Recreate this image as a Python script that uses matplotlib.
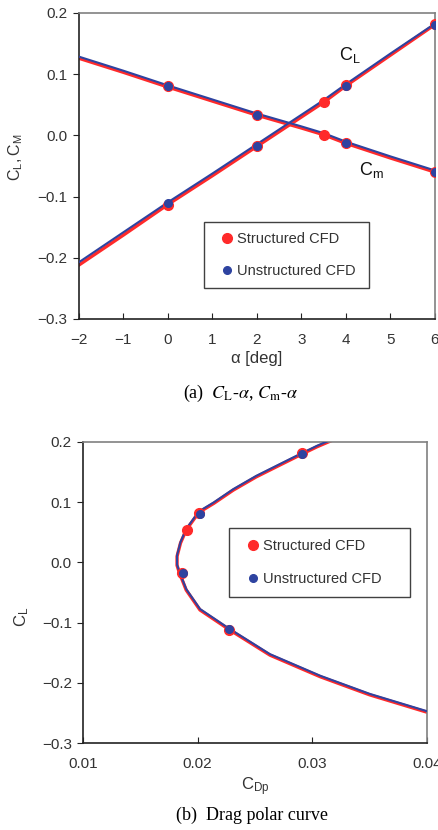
import numpy as np
import matplotlib
matplotlib.use('Agg')
import matplotlib.pyplot as plt
from matplotlib.transforms import ScaledTranslation

plt.rcParams['font.family'] = ['Liberation Sans', 'DejaVu Sans']
plt.rcParams['mathtext.fontset'] = 'custom'
plt.rcParams['mathtext.rm'] = 'Liberation Sans'
plt.rcParams['mathtext.it'] = 'Liberation Sans:italic'

# ------------ Data ---------------
# (a) CL / Cm vs alpha, lines
alpha_line = [-2, -1, 0, 1, 2, 3, 3.5, 4, 5, 6]
cl_line_str = [-0.212, -0.163, -0.113, -0.066, -0.018, 0.030, 0.054, 0.081, 0.131, 0.181]
cl_line_uns = [-0.209, -0.160, -0.111, -0.064, -0.016, 0.032, 0.056, 0.082, 0.132, 0.181]
cm_line_str = [0.126, 0.103, 0.079, 0.056, 0.033, 0.012, 0.001, -0.013, -0.037, -0.060]
cm_line_uns = [0.127, 0.104, 0.080, 0.057, 0.034, 0.013, 0.002, -0.012, -0.036, -0.059]

# (a) markers
alpha_str = [0, 2, 3.5, 4, 6]
cl_str = [-0.113, -0.018, 0.054, 0.083, 0.182]
cm_str = [0.080, 0.034, 0.001, -0.013, -0.060]
alpha_uns = [0, 2, 4, 6]
cl_uns = [-0.111, -0.017, 0.081, 0.180]
cm_uns = [0.080, 0.034, -0.013, -0.060]

# (b) drag polar lines
cl_polar = [-0.250, -0.220, -0.190, -0.154, -0.111, -0.079, -0.046, -0.017,
            -0.005, 0.010, 0.032, 0.054, 0.083, 0.098, 0.120, 0.142,
            0.162, 0.180, 0.192, 0.205]
cd_polar = [0.0402, 0.0350, 0.0307, 0.0263, 0.0227, 0.0202, 0.0190, 0.0184,
            0.0182, 0.0182, 0.0185, 0.0190, 0.0201, 0.0214, 0.0231, 0.0251,
            0.0272, 0.0291, 0.0304, 0.0320]

# (b) markers
cd_str = [0.0227, 0.0186, 0.0191, 0.0201, 0.0291]
clp_str = [-0.113, -0.017, 0.054, 0.082, 0.181]
cd_uns = [0.0227, 0.0187, 0.0202, 0.0291]
clp_uns = [-0.111, -0.018, 0.081, 0.180]

RED = '#ff2a2a'
BLUE = '#2e43a0'

fig = plt.figure(figsize=(4.38, 8.3), dpi=100)
ax1 = fig.add_axes([0.180, 0.6157, 0.813, 0.3687])
ax2 = fig.add_axes([0.1895, 0.1048, 0.7855, 0.3627])

up = ScaledTranslation(0, 1.0 / 100, fig.dpi_scale_trans)


def style_axes(ax):
    for s in ['left', 'bottom']:
        ax.spines[s].set_color('#222222')
        ax.spines[s].set_linewidth(1.2)
    for s in ['top', 'right']:
        ax.spines[s].set_color('#808080')
        ax.spines[s].set_linewidth(1.2)
    ax.tick_params(axis='x', direction='in', length=4, color='#222222',
                   labelsize=11, labelcolor='#333333', pad=10)
    ax.tick_params(axis='y', direction='out', length=4, color='#222222',
                   labelsize=11, labelcolor='#333333', pad=4)


def fmt_minus(v, nd):
    return f'{v:.{nd}f}'.replace('-', '\u2212')


# ------------ (a) ---------------
kw = dict(solid_joinstyle='round', solid_capstyle='round')
ax1.plot(alpha_line, cl_line_str, color=RED, lw=2.4, zorder=2, **kw)
ax1.plot(alpha_line, cm_line_str, color=RED, lw=2.4, zorder=2, **kw)
ax1.plot(alpha_line, cl_line_uns, color=BLUE, lw=1.5, zorder=3,
         transform=ax1.transData + up, **kw)
ax1.plot(alpha_line, cm_line_uns, color=BLUE, lw=1.5, zorder=3,
         transform=ax1.transData + up, **kw)
ax1.plot(alpha_str, cl_str, 'o', color=RED, ms=7, zorder=4, label='Structured CFD')
ax1.plot(alpha_str, cm_str, 'o', color=RED, ms=7, zorder=4)
ax1.plot(alpha_uns, cl_uns, 'o', color=BLUE, ms=5.5, zorder=5, label='Unstructured CFD')
ax1.plot(alpha_uns, cm_uns, 'o', color=BLUE, ms=5.5, zorder=5)

ax1.set_xlim(-2, 6)
ax1.set_ylim(-0.3, 0.2)
xt = np.arange(-2, 7, 1)
ax1.set_xticks(xt)
ax1.set_xticklabels([str(v).replace('-', '\u2212') for v in xt])
yt = [-0.3, -0.2, -0.1, 0.0, 0.1, 0.2]
ax1.set_yticks(yt)
ax1.set_yticklabels([fmt_minus(v, 1) for v in yt])
style_axes(ax1)
ax1.set_xlabel('\u03b1 [deg]', fontsize=12, color='#333333', labelpad=3)
ax1.set_ylabel(r'$\mathrm{C_L,C_M}$', fontsize=11.5, color='#333333')
ax1.yaxis.set_label_coords(-0.15, 0.53)
ax1.text(3.85, 0.123, r'$\mathrm{C_L}$', fontsize=13, color='#111111')
ax1.text(4.3, -0.064, r'$\mathrm{C_m}$', fontsize=13, color='#111111')

leg1 = ax1.legend(loc='lower left', bbox_to_anchor=(0.351, 0.101, 0.464, 0.203),
                  mode='expand', frameon=True, fancybox=False, fontsize=10.5,
                  handlelength=1.8, handletextpad=-0.2, labelspacing=1.2,
                  borderpad=0.7, borderaxespad=0)
leg1.get_frame().set_edgecolor('#111111')
leg1.get_frame().set_linewidth(1.0)
for t in leg1.get_texts():
    t.set_color('#333333')

# ------------ (b) ---------------
ax2.plot(cd_polar, cl_polar, color=RED, lw=2.4, zorder=2, **kw)
ax2.plot(cd_polar, cl_polar, color=BLUE, lw=1.5, zorder=3,
         transform=ax2.transData + up, **kw)
ax2.plot(cd_str, clp_str, 'o', color=RED, ms=7, zorder=4, label='Structured CFD')
ax2.plot(cd_uns, clp_uns, 'o', color=BLUE, ms=5.5, zorder=5, label='Unstructured CFD')

ax2.set_xlim(0.01, 0.04)
ax2.set_ylim(-0.3, 0.2)
xt2 = [0.01, 0.02, 0.03, 0.04]
ax2.set_xticks(xt2)
ax2.set_xticklabels([f'{v:.2f}' for v in xt2])
ax2.set_yticks(yt)
ax2.set_yticklabels([fmt_minus(v, 1) for v in yt])
style_axes(ax2)
ax2.set_xlabel(r'$\mathrm{C_{Dp}}$', fontsize=12, color='#333333', labelpad=3)
ax2.set_ylabel(r'$\mathrm{C_L}$', fontsize=12, color='#333333')
ax2.yaxis.set_label_coords(-0.15, 0.42)

leg2 = ax2.legend(loc='lower left', bbox_to_anchor=(0.424, 0.485, 0.527, 0.216),
                  mode='expand', frameon=True, fancybox=False, fontsize=10.5,
                  handlelength=1.8, handletextpad=-0.2, labelspacing=1.3,
                  borderpad=0.75, borderaxespad=0)
leg2.get_frame().set_edgecolor('#111111')
leg2.get_frame().set_linewidth(1.0)
for t in leg2.get_texts():
    t.set_color('#333333')

# ------------ captions ---------------
fig.text(0.55, 1 - 393 / 830, r'(a)  $C_\mathrm{L}$-$\alpha$, $C_\mathrm{m}$-$\alpha$',
         ha='center', va='center', fontsize=13, family='Liberation Serif',
         math_fontfamily='stix')
fig.text(0.575, 1 - 815 / 830, '(b)  Drag polar curve',
         ha='center', va='center', fontsize=13, family='Liberation Serif')

fig.savefig('out.png', dpi=100)
